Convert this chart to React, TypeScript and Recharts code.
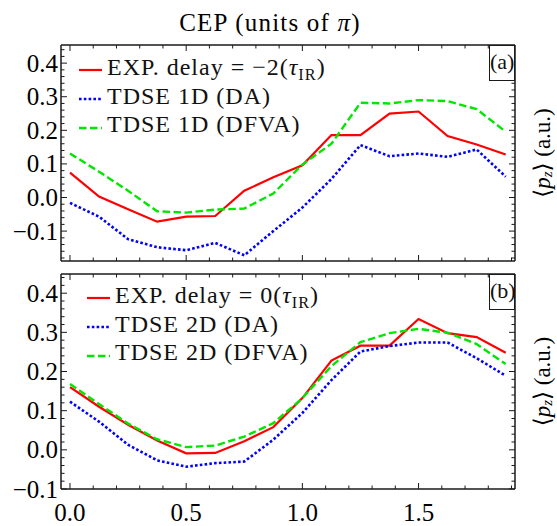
import React from 'react';
import { LineChart, Line, XAxis, YAxis, Legend } from 'recharts';

// CEP values (units of pi)
const cep = [0, 0.125, 0.25, 0.375, 0.5, 0.625, 0.75, 0.875, 1.0, 1.125, 1.25, 1.375, 1.5, 1.625, 1.75, 1.875];

// Panel (a)
const expA = [0.074, 0.003, -0.035, -0.072, -0.057, -0.055, 0.02, 0.06, 0.096, 0.186, 0.186, 0.25, 0.256, 0.183, 0.158, 0.128];
const daA = [-0.016, -0.057, -0.124, -0.148, -0.157, -0.135, -0.172, -0.1, -0.03, 0.055, 0.156, 0.123, 0.131, 0.121, 0.143, 0.062];
const dfvaA = [0.131, 0.077, 0.02, -0.041, -0.045, -0.036, -0.033, 0.012, 0.098, 0.16, 0.282, 0.28, 0.29, 0.287, 0.263, 0.196];

// Panel (b)
const expB = [0.16, 0.11, 0.064, 0.024, -0.009, -0.008, 0.022, 0.058, 0.132, 0.228, 0.266, 0.266, 0.334, 0.298, 0.288, 0.248];
const daB = [0.123, 0.072, 0.013, -0.027, -0.043, -0.034, -0.03, 0.026, 0.094, 0.178, 0.251, 0.265, 0.274, 0.274, 0.234, 0.189];
const dfvaB = [0.168, 0.117, 0.067, 0.027, 0.007, 0.011, 0.034, 0.068, 0.132, 0.214, 0.275, 0.298, 0.309, 0.299, 0.27, 0.219];

// Tick labels
const xTickLabels = [0, 0.5, 1.0, 1.5];
const yTickLabels = [-0.1, 0, 0.1, 0.2, 0.3, 0.4];

const seriesA = [
  { key: 'exp', name: 'EXP. delay = \u22122(\u03C4_IR)', values: expA },
  { key: 'da', name: 'TDSE 1D (DA)', values: daA },
  { key: 'dfva', name: 'TDSE 1D (DFVA)', values: dfvaA },
];
const seriesB = [
  { key: 'exp', name: 'EXP. delay = 0(\u03C4_IR)', values: expB },
  { key: 'da', name: 'TDSE 2D (DA)', values: daB },
  { key: 'dfva', name: 'TDSE 2D (DFVA)', values: dfvaB },
];

const STYLE: Record<string, { color: string; width: number; dash?: string }> = {
  exp: { color: '#ff0000', width: 2.2 },
  da: { color: '#0000ff', width: 2.6, dash: '2.6 2.2' },
  dfva: { color: '#00e600', width: 2.4, dash: '7.5 3.5' },
};

const FONT = '"Liberation Serif", "DejaVu Serif", serif';
const INK = '#1a1a1a';

const range = (a: number, b: number, s: number) => {
  const out: number[] = [];
  const n = Math.round((b - a) / s);
  for (let i = 0; i <= n; i++) out.push(Math.round((a + i * s) * 1000) / 1000);
  return out;
};
const isIn = (arr: number[], v: number) => arr.some((t) => Math.abs(t - v) < 1e-6);
const fmt = (v: number) => (v < -1e-9 ? '\u2212' : '') + Math.abs(v).toFixed(1);

const xDomain: [number, number] = [-0.0387, 1.915];
const xTicks = range(0, 1.9, 0.1);
const yDomainA: [number, number] = [-0.189, 0.454];
const yTicksA = range(-0.18, 0.44, 0.02);
const yDomainB: [number, number] = [-0.1, 0.449];
const yTicksB = range(-0.1, 0.44, 0.02);

const buildData = (series: typeof seriesA) =>
  cep.map((c, i) => {
    const row: Record<string, number> = { cep: c };
    series.forEach((s) => (row[s.key] = s.values[i]));
    return row;
  });

const renderName = (name: string) => {
  const parts = name.split('\u03C4_IR');
  if (parts.length === 1) return name;
  return (
    <>
      {parts[0]}
      <i>{'\u03C4'}</i>
      <span style={{ fontSize: '0.68em', position: 'relative', top: '0.3em' }}>IR</span>
      {parts[1]}
    </>
  );
};

const makeYTick = (side: 'left' | 'right') => (props: any) => {
  const { x, y, payload } = props;
  const v = payload.value;
  const major = isIn(yTickLabels, v);
  const len = major ? 6 : 3.5;
  const dir = side === 'left' ? 1 : -1;
  return (
    <g>
      <line x1={x} y1={y} x2={x + dir * len} y2={y} stroke={INK} strokeWidth={1} />
      {major && side === 'left' && (
        <text x={x - 3} y={y + 8.5} textAnchor="end" fontFamily={FONT} fontSize={25} fill="#000">
          {fmt(v)}
        </text>
      )}
    </g>
  );
};

const makeXTick = (side: 'top' | 'bottom', labels: boolean) => (props: any) => {
  const { x, y, payload } = props;
  const v = payload.value;
  const major = isIn(xTickLabels, v);
  const len = major ? 6 : 3.5;
  const dir = side === 'bottom' ? -1 : 1;
  return (
    <g>
      <line x1={x} y1={y} x2={x} y2={y + dir * len} stroke={INK} strokeWidth={1} />
      {major && labels && (
        <text x={x} y={y + 32} textAnchor="middle" fontFamily={FONT} fontSize={25} fill="#000">
          {fmt(v)}
        </text>
      )}
    </g>
  );
};

const RightLabel = (props: any) => {
  const vb = props.viewBox;
  const cx = vb.x + 27;
  const cy = vb.y + vb.height / 2;
  return (
    <text
      x={cx}
      y={cy}
      transform={`rotate(-90, ${cx}, ${cy})`}
      textAnchor="middle"
      dominantBaseline="central"
      fontFamily={FONT}
      fontSize={23}
      fill="#000"
    >
      {'\u27E8'}
      <tspan fontStyle="italic">p</tspan>
      <tspan fontStyle="italic" fontSize={15} dy={5}>z</tspan>
      <tspan dy={-5}>{'\u27E9 (a.u.)'}</tspan>
    </text>
  );
};

const TitleLabel = (props: any) => {
  const vb = props.viewBox;
  return (
    <text x={vb.x + vb.width / 2 - 18} y={31} textAnchor="middle" fontFamily={FONT} fontSize={25} fill="#000" letterSpacing={1.2}>
      CEP (units of <tspan fontStyle="italic">{'\u03C0'}</tspan>)
    </text>
  );
};

const makeLegend = (series: typeof seriesA) => () => (
  <div style={{ fontFamily: FONT, fontSize: 24, letterSpacing: 1.0, color: '#111' }}>
    {series.map((s) => {
      const st = STYLE[s.key];
      return (
        <div key={s.key} style={{ display: 'flex', alignItems: 'center', height: 28.7, whiteSpace: 'nowrap' }}>
          <svg width={29} height={10} style={{ flex: 'none' }}>
            <line x1={1} y1={5} x2={24} y2={5} stroke={st.color} strokeWidth={st.width} strokeDasharray={st.dash} />
          </svg>
          <span style={{ position: 'relative', top: -3 }}>{renderName(s.name)}</span>
        </div>
      );
    })}
  </div>
);

type PanelProps = {
  top: number;
  height: number;
  topH: number;
  bottomH: number;
  series: typeof seriesA;
  yDomain: [number, number];
  yTicks: number[];
  xLabels: boolean;
  legendLeft: number;
  legendTop: number;
  tag: string;
  title: boolean;
};

function Panel(p: PanelProps) {
  const data = buildData(p.series);
  const axisLine = { stroke: INK, strokeWidth: 1.5 };
  return (
    <div style={{ position: 'absolute', left: 0, top: p.top, width: 557, height: p.height }}>
      <LineChart width={557} height={p.height} data={data} margin={{ top: 0, right: 0, bottom: 0, left: 0 }}>
        <XAxis
          xAxisId="b"
          dataKey="cep"
          type="number"
          orientation="bottom"
          domain={xDomain}
          allowDataOverflow
          ticks={xTicks}
          interval={0}
          height={p.bottomH}
          tickSize={0}
          tickMargin={0}
          axisLine={axisLine}
          tickLine={false}
          tick={makeXTick('bottom', p.xLabels)}
        />
        <XAxis
          xAxisId="t"
          dataKey="cep"
          type="number"
          orientation="top"
          domain={xDomain}
          allowDataOverflow
          ticks={xTicks}
          interval={0}
          height={p.topH}
          tickSize={0}
          tickMargin={0}
          axisLine={axisLine}
          tickLine={false}
          tick={makeXTick('top', false)}
          label={p.title ? TitleLabel : undefined}
        />
        <YAxis
          yAxisId="l"
          type="number"
          orientation="left"
          domain={p.yDomain}
          allowDataOverflow
          ticks={p.yTicks}
          interval={0}
          width={61}
          tickSize={0}
          tickMargin={0}
          axisLine={axisLine}
          tickLine={false}
          tick={makeYTick('left')}
        />
        <YAxis
          yAxisId="r"
          type="number"
          orientation="right"
          domain={p.yDomain}
          allowDataOverflow
          ticks={p.yTicks}
          interval={0}
          width={42}
          tickSize={0}
          tickMargin={0}
          axisLine={axisLine}
          tickLine={false}
          tick={makeYTick('right')}
          label={RightLabel}
        />
        <Legend
          layout="vertical"
          align="center"
          verticalAlign="middle"
          wrapperStyle={{ left: p.legendLeft, top: p.legendTop, width: 'auto', height: 'auto' }}
          content={makeLegend(p.series)}
        />
        {p.series.map((s) => {
          const st = STYLE[s.key];
          return (
            <Line
              key={s.key}
              xAxisId="b"
              yAxisId="l"
              dataKey={s.key}
              name={s.name}
              type="linear"
              stroke={st.color}
              strokeWidth={st.width}
              strokeDasharray={st.dash}
              dot={false}
              activeDot={false}
              isAnimationActive={false}
            />
          );
        })}
      </LineChart>
      <div
        style={{
          position: 'absolute',
          left: 489,
          top: p.height - p.bottomH - (p.yDomain === yDomainA ? 216 : 215),
          width: 26,
          height: 36,
          boxSizing: 'border-box',
          border: `1.5px solid ${INK}`,
          background: '#fff',
          fontFamily: FONT,
          fontSize: 22,
          lineHeight: '32px',
          textAlign: 'center',
          color: '#111',
        }}
      >
        {p.tag}
      </div>
    </div>
  );
}

export default function App() {
  return (
    <div style={{ position: 'absolute', left: 0, top: 0, width: 557, height: 526, background: '#fff' }}>
      <Panel
        top={0}
        height={270}
        topH={45}
        bottomH={9}
        series={seriesA}
        yDomain={yDomainA}
        yTicks={yTicksA}
        xLabels={false}
        legendLeft={78}
        legendTop={56}
        tag="(a)"
        title
      />
      <Panel
        top={270}
        height={256}
        topH={4}
        bottomH={37}
        series={seriesB}
        yDomain={yDomainB}
        yTicks={yTicksB}
        xLabels
        legendLeft={86}
        legendTop={14}
        tag="(b)"
        title={false}
      />
    </div>
  );
}
